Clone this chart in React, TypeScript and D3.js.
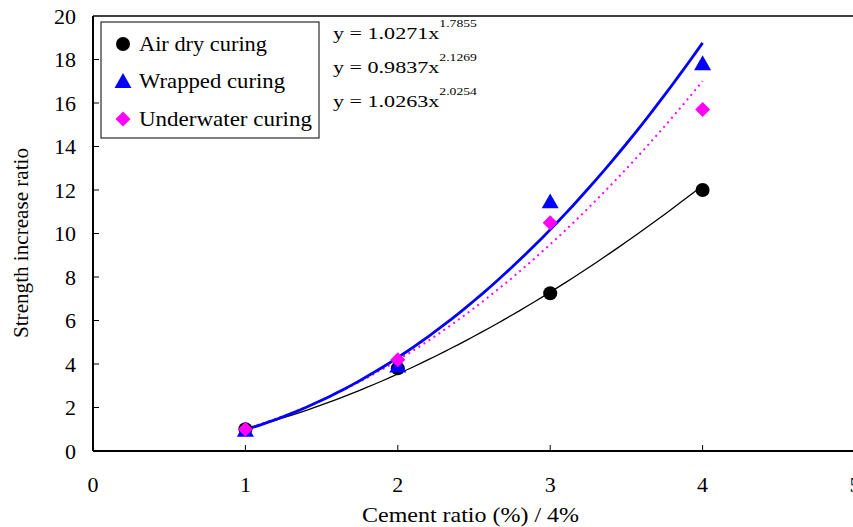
import React from 'react';
import * as d3 from 'd3';

const width = 853, height = 527;
const margin = { top: 16, right: -2, bottom: 76, left: 93 };

// measured points
const cementRatio = [1, 2, 3, 4];
const airDry = [1.0, 3.8, 7.25, 12.0];
const wrapped = [0.95, 3.9, 11.45, 17.8];
const underwater = [1.0, 4.2, 10.5, 15.7];

// power trendline coefficients y = a * x^b (shown on the chart)
const fitA = [1.0271, 0.9837, 1.0263];
const fitB = [1.7855, 2.1269, 2.0254];
const fitLabels = ['1.0271', '0.9837', '1.0263'];
const fitPowers = ['1.7855', '2.1269', '2.0254'];

const seriesNames = ['Air dry curing', 'Wrapped curing', 'Underwater curing'];
const legendWidths = [128, 146, 173];
const xTicks = [0, 1, 2, 3, 4, 5];
const yTicks = [0, 2, 4, 6, 8, 10, 12, 14, 16, 18, 20];

const colors = ['#000000', '#0000ff', '#ff00ff'];

const font = "'Liberation Serif', 'Times New Roman', serif";

export default function App() {
    const x = d3.scaleLinear().domain([0, 5]).range([margin.left, width - margin.right]);
    const y = d3.scaleLinear().domain([0, 20]).range([height - margin.bottom, margin.top]);

    const allSeries = [airDry, wrapped, underwater];

    // trend line samples between first and last measured x
    const fitX = d3.range(cementRatio[0], cementRatio[3] + 0.001, 0.05);
    const fitPath = (k: number) =>
        d3.line<number>().x(d => x(d)).y(d => y(fitA[k] * Math.pow(d, fitB[k])))(fitX) || '';

    const marker = (k: number, cx: number, cy: number, key: string) => {
        if (k === 0) return <circle key={key} cx={cx} cy={cy} r={7} fill={colors[0]} />;
        if (k === 1) {
            const s = 8.5;
            return <path key={key} d={`M${cx},${cy - s}L${cx + s},${cy + s * 0.75}L${cx - s},${cy + s * 0.75}Z`} fill={colors[1]} />;
        }
        const s = 7.5;
        return <path key={key} d={`M${cx},${cy - s}L${cx + s},${cy}L${cx},${cy + s}L${cx - s},${cy}Z`} fill={colors[2]} />;
    };

    const y0 = y(0);
    const ts = { fontFamily: font };

    return (
        <svg width={width} height={height} style={{ position: 'absolute', left: 0, top: 0, fontFamily: font }}>
            <rect width={width} height={height} fill="#fff" />
            {/* frame */}
            <line x1={x(0)} x2={width} y1={margin.top} y2={margin.top} stroke="#000" strokeWidth={1.5} />
            <line x1={x(0)} x2={x(0)} y1={margin.top} y2={y0} stroke="#000" strokeWidth={2} />
            <line x1={x(0)} x2={width} y1={y0} y2={y0} stroke="#000" strokeWidth={2} />

            {/* y ticks */}
            {yTicks.map(t => (
                <g key={'y' + t}>
                    {t > 0 && t < 20 && <line x1={x(0)} x2={x(0) + 6} y1={y(t)} y2={y(t)} stroke="#000" strokeWidth={1} />}
                    <text x={76} y={y(t)} dy="0.35em" textAnchor="end" fontSize={22} style={ts}>{t}</text>
                </g>
            ))}
            {/* x ticks */}
            {xTicks.map(t => (
                <g key={'x' + t}>
                    {t > 0 && t < 5 && <line x1={x(t)} x2={x(t)} y1={y0} y2={y0 - 6} stroke="#000" strokeWidth={1} />}
                    <text x={x(t)} y={y0 + 41} textAnchor="middle" fontSize={22} style={ts}>{t}</text>
                </g>
            ))}

            {/* axis titles */}
            <text x={362} y={522} fontSize={22} textLength={217} lengthAdjust="spacingAndGlyphs" style={ts}>
                Cement ratio (%) / 4%
            </text>
            <text transform="translate(28,338) rotate(-90)" fontSize={22} textLength={190} lengthAdjust="spacingAndGlyphs" style={ts}>
                Strength increase ratio
            </text>

            {/* trend lines */}
            <path d={fitPath(0)} fill="none" stroke={colors[0]} strokeWidth={1.3} />
            <path d={fitPath(2)} fill="none" stroke={colors[2]} strokeWidth={2} strokeDasharray="2,4" />
            <path d={fitPath(1)} fill="none" stroke={colors[1]} strokeWidth={2.8} />

            {/* markers */}
            {allSeries.map((s, k) => s.map((v, i) => marker(k, x(cementRatio[i]), y(v), `m${k}-${i}`)))}

            {/* legend */}
            <rect x={101} y={22} width={218} height={116} fill="#fff" stroke="#000" strokeWidth={1} />
            {seriesNames.map((n, k) => (
                <g key={n}>
                    {marker(k, 123, 44 + k * 37.5, 'l' + k)}
                    <text x={139} y={44 + k * 37.5} dy="0.33em" fontSize={21} textLength={legendWidths[k]} lengthAdjust="spacingAndGlyphs" style={ts}>{n}</text>
                </g>
            ))}

            {/* fit equations, drawn slightly widened like the source */}
            {fitLabels.map((a, k) => (
                <g key={a} transform={`translate(333,${39 + k * 34}) scale(1.3,1)`}>
                    <text x={0} y={0} fontSize={17} style={ts}>
                        y = {a}x<tspan dy={-12} fontSize={10.5}>{fitPowers[k]}</tspan>
                    </text>
                </g>
            ))}
        </svg>
    );
}
